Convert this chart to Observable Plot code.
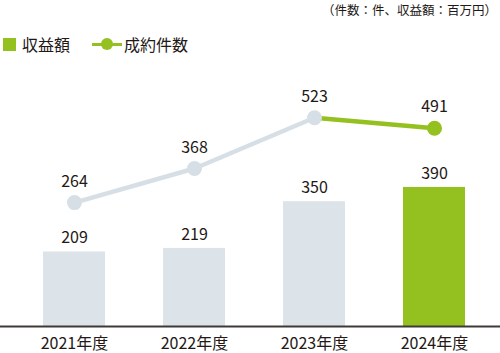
<!DOCTYPE html>
<html><head><meta charset="utf-8">
<script src="https://cdn.jsdelivr.net/npm/d3@7"></script>
<script src="https://cdn.jsdelivr.net/npm/@observablehq/plot@0.6"></script>
<style>
body{margin:0;background:#fff;font-family:"Noto Sans CJK JP","Noto Sans",sans-serif;color:#231815}
#wrap{position:relative;width:500px;height:353px;overflow:hidden}
#unit{position:absolute;right:3px;top:1px;font-size:12.5px;line-height:18px}
#legend{position:absolute;left:3px;top:33px;font-size:16px;line-height:22px;display:flex;align-items:center}
.sq{display:inline-block;width:13px;height:13px;background:#94c11f;margin-right:6px}
.ln{display:inline-block;position:relative;width:30px;height:14px;margin-left:22px;margin-right:2px}
.ln::before{content:"";position:absolute;left:0;right:0;top:5.5px;height:3px;background:#94c11f}
.ln::after{content:"";position:absolute;left:9px;top:1px;width:12px;height:12px;border-radius:50%;background:#94c11f}
#chart{position:absolute;left:0;top:60px}
</style></head>
<body><div id="wrap">
<div id="unit">（件数：件、収益額：百万円）</div>
<div id="legend"><span class="sq"></span><span>収益額</span><span class="ln"></span><span>成約件数</span></div>
<div id="chart"></div>
</div>
<script>
const years = ["2021年度","2022年度","2023年度","2024年度"];
const revenue = [209, 219, 350, 390];
const contracts = [264, 368, 523, 491];
const highlight = [false, false, false, true];

const green = "#94c11f", grayBar = "#dce3e9", grayLine = "#d7dfe6", ink = "#231815";
const data = years.map((y, i) => ({year: y, revenue: revenue[i], contracts: contracts[i], hl: highlight[i]}));
// secondary scale for the line (contracts), mapped into the bar y domain
const lineY = d3.scaleLinear([-114, 667], [0, 718]);
const ml = 10, mr = 2;
const chart = Plot.plot({
  width: 500, height: 293,
  marginTop: 10, marginBottom: 27, marginLeft: ml, marginRight: mr,
  x: {type: "band", domain: years, paddingInner: 0.486, paddingOuter: 0.26, tickSize: 0, tickPadding: 11, label: null},
  y: {domain: [0, 718], axis: null},
  color: {type: "identity"},
  style: {fontFamily: '"Noto Sans CJK JP","Noto Sans",sans-serif', fontSize: "16px", color: ink, background: "transparent"},
  marks: [
    Plot.barY(data, {x: "year", y: "revenue", fill: d => d.hl ? green : grayBar}),
    Plot.ruleY([0], {stroke: "#3e3a39", strokeWidth: 2, insetLeft: -ml, insetRight: -mr}),
    Plot.text(data, {x: "year", y: "revenue", text: d => String(d.revenue), dy: -14, fill: ink, fontSize: 16}),
    Plot.line(data.slice(0, 3), {x: "year", y: d => lineY(d.contracts), stroke: grayLine, strokeWidth: 4.5}),
    Plot.line(data.slice(2), {x: "year", y: d => lineY(d.contracts), stroke: green, strokeWidth: 4.5}),
    Plot.dot(data, {x: "year", y: d => lineY(d.contracts), r: 7.5, fill: d => d.hl ? green : grayLine}),
    Plot.text(data, {x: "year", y: d => lineY(d.contracts), text: d => String(d.contracts), dy: -21, fill: ink, fontSize: 16})
  ]
});
document.getElementById("chart").append(chart);
</script>
</body></html>
